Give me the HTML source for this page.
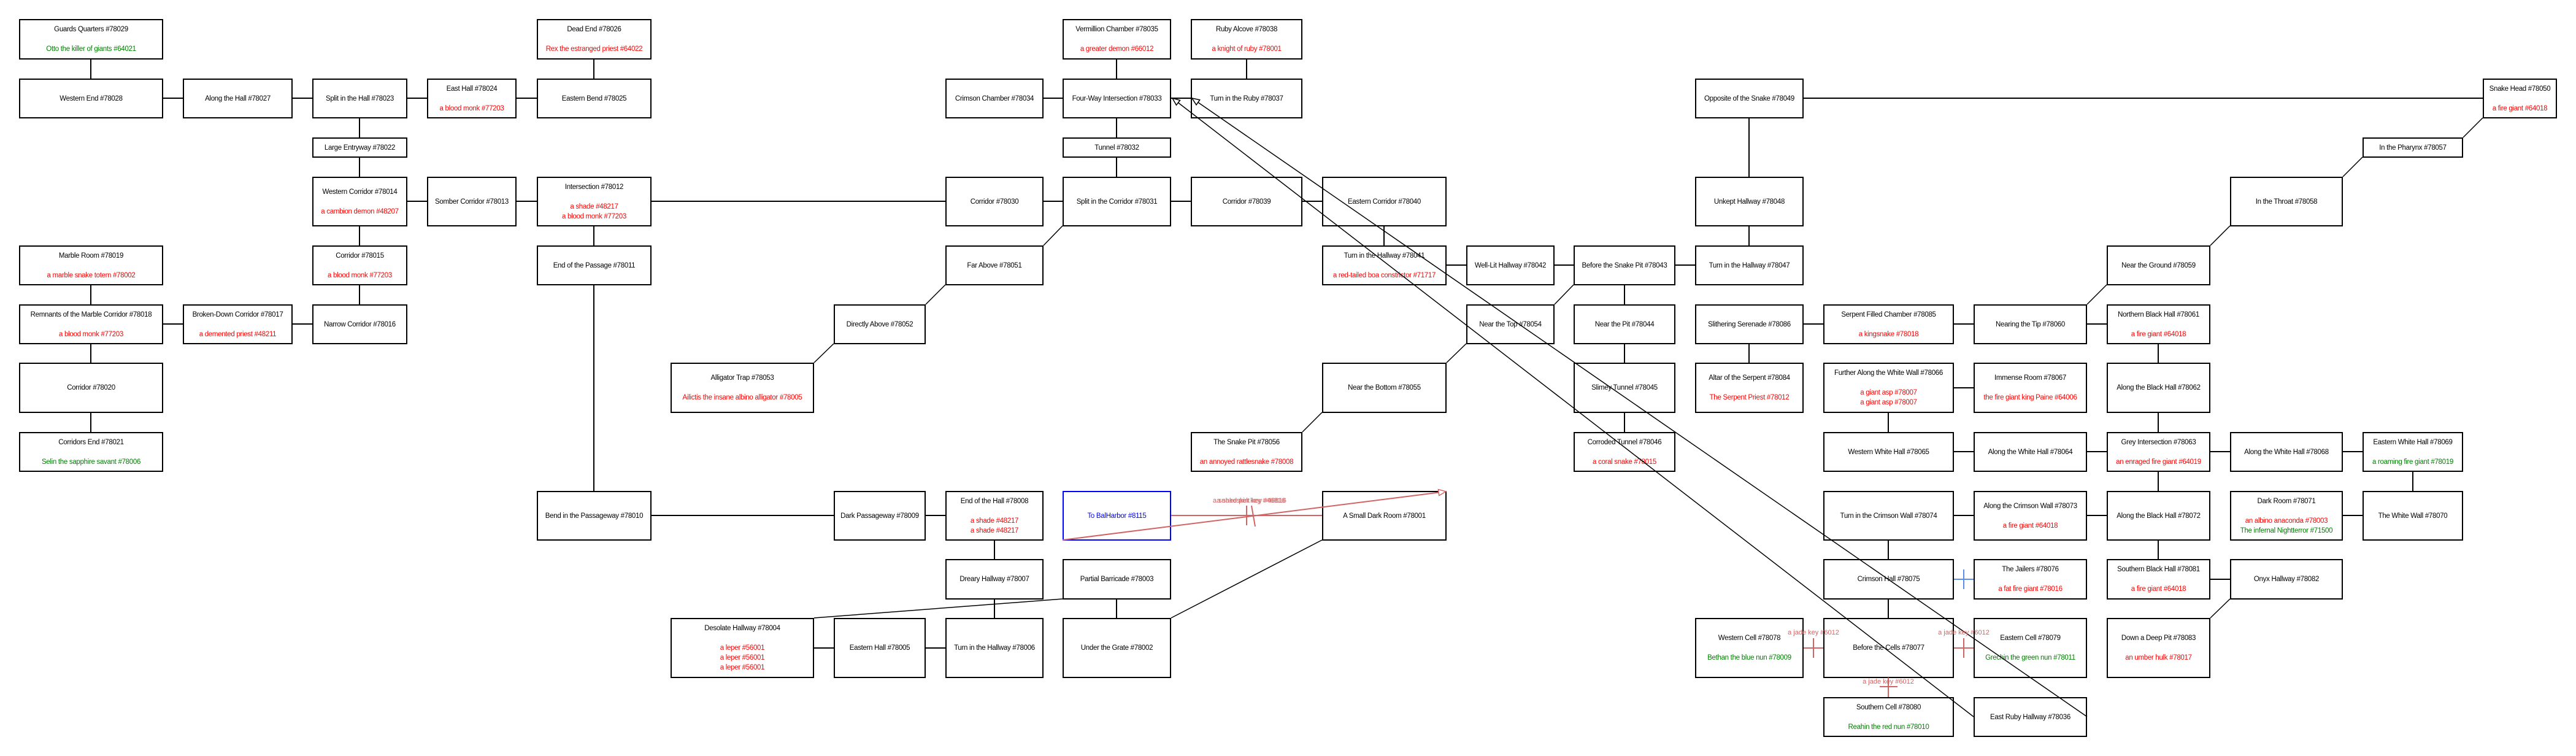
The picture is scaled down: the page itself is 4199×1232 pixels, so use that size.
<!DOCTYPE html>
<html><head><meta charset="utf-8"><style>
body{margin:0;width:4199px;height:1232px;background:#fff;position:relative;overflow:hidden;font-family:"Liberation Sans",sans-serif}
.b{position:absolute;border:2px solid #000;box-sizing:border-box;background:#fff;display:flex;align-items:center;justify-content:center;text-align:center;font-size:11.5px;line-height:16px;color:#000;white-space:nowrap;letter-spacing:-0.3px}
.r{color:#f00}.g{color:#008000}
.A{top:31px;height:66px}.B{top:128px;height:65px}.C{top:224px;height:33px}.D{top:288px;height:81px}
.E{top:400px;height:65px}.F{top:496px;height:65px}.G{top:591px;height:82px}.H{top:704px;height:65px}
.I{top:800px;height:81px}.J{top:911px;height:66px}.K{top:1007px;height:98px}.L{top:1136px;height:65px}
svg{position:absolute;left:0;top:0}
</style></head><body>
<div class="b A" style="left:31px;width:235px"><div>Guards Quarters #78029<br><br><span class="g">Otto the killer of giants #64021</span></div></div>
<div class="b B" style="left:31px;width:235px"><div>Western End #78028</div></div>
<div class="b B" style="left:298px;width:179px"><div>Along the Hall #78027</div></div>
<div class="b B" style="left:509px;width:155px"><div>Split in the Hall #78023</div></div>
<div class="b B" style="left:696px;width:146px"><div>East Hall #78024<br><br><span class="r">a blood monk #77203</span></div></div>
<div class="b A" style="left:875px;width:187px"><div>Dead End #78026<br><br><span class="r">Rex the estranged priest #64022</span></div></div>
<div class="b B" style="left:875px;width:187px"><div>Eastern Bend #78025</div></div>
<div class="b C" style="left:509px;width:155px"><div>Large Entryway #78022</div></div>
<div class="b D" style="left:509px;width:155px"><div>Western Corridor #78014<br><br><span class="r">a cambion demon #48207</span></div></div>
<div class="b D" style="left:696px;width:146px"><div>Somber Corridor #78013</div></div>
<div class="b D" style="left:875px;width:187px"><div>Intersection #78012<br><br><span class="r">a shade #48217<br>a blood monk #77203</span></div></div>
<div class="b E" style="left:31px;width:235px"><div>Marble Room #78019<br><br><span class="r">a marble snake totem #78002</span></div></div>
<div class="b E" style="left:509px;width:155px"><div>Corridor #78015<br><br><span class="r">a blood monk #77203</span></div></div>
<div class="b E" style="left:875px;width:187px"><div>End of the Passage #78011</div></div>
<div class="b F" style="left:31px;width:235px"><div>Remnants of the Marble Corridor #78018<br><br><span class="r">a blood monk #77203</span></div></div>
<div class="b F" style="left:298px;width:179px"><div>Broken-Down Corridor #78017<br><br><span class="r">a demented priest #48211</span></div></div>
<div class="b F" style="left:509px;width:155px"><div>Narrow Corridor #78016</div></div>
<div class="b G" style="left:31px;width:235px"><div>Corridor #78020</div></div>
<div class="b H" style="left:31px;width:235px"><div>Corridors End #78021<br><br><span class="g">Selin the sapphire savant #78006</span></div></div>
<div class="b I" style="left:875px;width:187px"><div>Bend in the Passageway #78010</div></div>
<div class="b A" style="left:1732px;width:177px"><div>Vermillion Chamber #78035<br><br><span class="r">a greater demon #66012</span></div></div>
<div class="b A" style="left:1941px;width:182px"><div>Ruby Alcove #78038<br><br><span class="r">a knight of ruby #78001</span></div></div>
<div class="b B" style="left:1541px;width:160px"><div>Crimson Chamber #78034</div></div>
<div class="b B" style="left:1732px;width:177px"><div>Four-Way Intersection #78033</div></div>
<div class="b B" style="left:1941px;width:182px"><div>Turn in the Ruby #78037</div></div>
<div class="b C" style="left:1732px;width:177px"><div>Tunnel #78032</div></div>
<div class="b D" style="left:1541px;width:160px"><div>Corridor #78030</div></div>
<div class="b D" style="left:1732px;width:177px"><div>Split in the Corridor #78031</div></div>
<div class="b D" style="left:1941px;width:182px"><div>Corridor #78039</div></div>
<div class="b E" style="left:1541px;width:160px"><div>Far Above #78051</div></div>
<div class="b F" style="left:1359px;width:150px"><div>Directly Above #78052</div></div>
<div class="b G" style="left:1093px;width:234px"><div>Alligator Trap #78053<br><br><span class="r">Ailictis the insane albino alligator #78005</span></div></div>
<div class="b I" style="left:1359px;width:150px"><div>Dark Passageway #78009</div></div>
<div class="b I" style="left:1541px;width:160px"><div>End of the Hall #78008<br><br><span class="r">a shade #48217<br>a shade #48217</span></div></div>
<div class="b I" style="left:1732px;width:177px;border-color:#00f;color:#00f"><div>To BalHarbor #8115</div></div>
<div class="b J" style="left:1541px;width:160px"><div>Dreary Hallway #78007</div></div>
<div class="b J" style="left:1732px;width:177px"><div>Partial Barricade #78003</div></div>
<div class="b K" style="left:1093px;width:234px"><div>Desolate Hallway #78004<br><br><span class="r">a leper #56001<br>a leper #56001<br>a leper #56001</span></div></div>
<div class="b K" style="left:1359px;width:150px"><div>Eastern Hall #78005</div></div>
<div class="b K" style="left:1541px;width:160px"><div>Turn in the Hallway #78006</div></div>
<div class="b K" style="left:1732px;width:177px"><div>Under the Grate #78002</div></div>
<div class="b H" style="left:1941px;width:182px"><div>The Snake Pit #78056<br><br><span class="r">an annoyed rattlesnake #78008</span></div></div>
<div class="b D" style="left:2155px;width:203px"><div>Eastern Corridor #78040</div></div>
<div class="b E" style="left:2155px;width:203px"><div>Turn in the Hallway #78041<br><br><span class="r">a red-tailed boa constrictor #71717</span></div></div>
<div class="b E" style="left:2390px;width:144px"><div>Well-Lit Hallway #78042</div></div>
<div class="b E" style="left:2565px;width:166px"><div>Before the Snake Pit #78043</div></div>
<div class="b E" style="left:2763px;width:177px"><div>Turn in the Hallway #78047</div></div>
<div class="b B" style="left:2763px;width:177px"><div>Opposite of the Snake #78049</div></div>
<div class="b D" style="left:2763px;width:177px"><div>Unkept Hallway #78048</div></div>
<div class="b F" style="left:2390px;width:144px"><div>Near the Top #78054</div></div>
<div class="b F" style="left:2565px;width:166px"><div>Near the Pit #78044</div></div>
<div class="b F" style="left:2763px;width:177px"><div>Slithering Serenade #78086</div></div>
<div class="b F" style="left:2972px;width:213px"><div>Serpent Filled Chamber #78085<br><br><span class="r">a kingsnake #78018</span></div></div>
<div class="b G" style="left:2155px;width:203px"><div>Near the Bottom #78055</div></div>
<div class="b G" style="left:2565px;width:166px"><div>Slimey Tunnel #78045</div></div>
<div class="b G" style="left:2763px;width:177px"><div>Altar of the Serpent #78084<br><br><span class="r">The Serpent Priest #78012</span></div></div>
<div class="b G" style="left:2972px;width:213px"><div>Further Along the White Wall #78066<br><br><span class="r">a giant asp #78007<br>a giant asp #78007</span></div></div>
<div class="b H" style="left:2565px;width:166px"><div>Corroded Tunnel #78046<br><br><span class="r">a coral snake #78015</span></div></div>
<div class="b H" style="left:2972px;width:213px"><div>Western White Hall #78065</div></div>
<div class="b I" style="left:2155px;width:203px"><div>A Small Dark Room #78001</div></div>
<div class="b I" style="left:2972px;width:213px"><div>Turn in the Crimson Wall #78074</div></div>
<div class="b J" style="left:2972px;width:213px"><div>Crimson Hall #78075</div></div>
<div class="b K" style="left:2763px;width:177px"><div>Western Cell #78078<br><br><span class="g">Bethan the blue nun #78009</span></div></div>
<div class="b K" style="left:2972px;width:213px"><div>Before the Cells #78077</div></div>
<div class="b L" style="left:2972px;width:213px"><div>Southern Cell #78080<br><br><span class="g">Reahin the red nun #78010</span></div></div>
<div class="b B" style="left:4047px;width:121px"><div>Snake Head #78050<br><br><span class="r">a fire giant #64018</span></div></div>
<div class="b C" style="left:3851px;width:164px"><div>In the Pharynx #78057</div></div>
<div class="b D" style="left:3635px;width:184px"><div>In the Throat #78058</div></div>
<div class="b E" style="left:3434px;width:169px"><div>Near the Ground #78059</div></div>
<div class="b F" style="left:3217px;width:185px"><div>Nearing the Tip #78060</div></div>
<div class="b F" style="left:3434px;width:169px"><div>Northern Black Hall #78061<br><br><span class="r">a fire giant #64018</span></div></div>
<div class="b G" style="left:3217px;width:185px"><div>Immense Room #78067<br><br><span class="r">the fire giant king Paine #64006</span></div></div>
<div class="b G" style="left:3434px;width:169px"><div>Along the Black Hall #78062</div></div>
<div class="b H" style="left:3217px;width:185px"><div>Along the White Hall #78064</div></div>
<div class="b H" style="left:3434px;width:169px"><div>Grey Intersection #78063<br><br><span class="r">an enraged fire giant #64019</span></div></div>
<div class="b H" style="left:3635px;width:184px"><div>Along the White Hall #78068</div></div>
<div class="b H" style="left:3851px;width:164px"><div>Eastern White Hall #78069<br><br><span class="g">a roaming fire giant #78019</span></div></div>
<div class="b I" style="left:3217px;width:185px"><div>Along the Crimson Wall #78073<br><br><span class="r">a fire giant #64018</span></div></div>
<div class="b I" style="left:3434px;width:169px"><div>Along the Black Hall #78072</div></div>
<div class="b I" style="left:3635px;width:184px"><div>Dark Room #78071<br><br><span class="r">an albino anaconda #78003</span><br><span class="g">The infernal Nightterror #71500</span></div></div>
<div class="b I" style="left:3851px;width:164px"><div>The White Wall #78070</div></div>
<div class="b J" style="left:3217px;width:185px"><div>The Jailers #78076<br><br><span class="r">a fat fire giant #78016</span></div></div>
<div class="b J" style="left:3434px;width:169px"><div>Southern Black Hall #78081<br><br><span class="r">a fire giant #64018</span></div></div>
<div class="b J" style="left:3635px;width:184px"><div>Onyx Hallway #78082</div></div>
<div class="b K" style="left:3217px;width:185px"><div>Eastern Cell #78079<br><br><span class="g">Grechin the green nun #78011</span></div></div>
<div class="b K" style="left:3434px;width:169px"><div>Down a Deep Pit #78083<br><br><span class="r">an umber hulk #78017</span></div></div>
<div class="b L" style="left:3217px;width:185px"><div>East Ruby Hallway #78036</div></div>

<svg width="4199" height="1232" viewBox="0 0 4199 1232">
<defs>
<marker id="ab" markerWidth="14" markerHeight="12" refX="13" refY="6" orient="auto" markerUnits="userSpaceOnUse"><path d="M1,1 L13,6 L1,11 Z" fill="#fff" stroke="#000" stroke-width="1.5"/></marker>
<marker id="ar" markerWidth="14" markerHeight="12" refX="13" refY="6" orient="auto" markerUnits="userSpaceOnUse"><path d="M1,1 L13,6 L1,11 Z" fill="#fff" stroke="#d06464" stroke-width="1.5"/></marker>
</defs>
<g stroke="#000" stroke-width="2" fill="none">
<path d="M148 96V128M148 464V496M148 560V591M148 672V704
M586 192V224M586 256V288M586 368V400M586 464V496
M968 96V128M968 368V400M968 464V800
M1820 96V128M1820 192V224M1820 256V288M1820 976V1007
M2032 96V128M1621 880V911M1621 976V1007M2256 368V400
M2648 464V496M2648 560V591M2648 672V704
M2851 192V288M2851 368V400M2851 560V591
M3078 672V704M3078 880V911M3078 976V1007
M3518 560V591M3518 672V704M3518 768V800M3518 880V911M3933 768V800
M266 160H298M477 160H509M664 160H696M842 160H875M1701 160H1732M1909 160H1941M2940 160H4047
M664 328H696M842 328H875M1062 328H1541M1701 328H1732M1909 328H1941M2123 328H2155
M2358 432H2390M2534 432H2565M2731 432H2763
M266 528H298M477 528H509M2940 528H2972M3185 528H3217M3402 528H3434
M3185 632H3217M3185 736H3217M3402 736H3434M3603 736H3635M3819 736H3851
M1062 840H1359M1509 840H1541M3185 840H3217M3402 840H3434M3819 840H3851
M3603 944H3635M1327 1056H1359M1509 1056H1541"/>
</g>
<g stroke="#000" stroke-width="1.5" fill="none">
<path d="M1732 368L1701 400M1541 464L1509 496M1359 560L1327 591
M2565 464L2534 496M2390 560L2358 591M2155 672L2123 704
M4047 192L4015 224M3851 256L3819 288M3635 368L3603 400M3434 464L3402 496
M3635 976L3603 1007M1732 976L1327 1007M1909 1007L2155 880"/>
<line x1="3217" y1="1168" x2="1911" y2="160" marker-end="url(#ab)"/>
<line x1="3402" y1="1168" x2="1943" y2="160" marker-end="url(#ab)"/>
</g>
<g stroke="#d06464" stroke-width="2" fill="none">
<path d="M1909 840H2155M2032 824V856M2040 824L2046 858M2940 1056H2972M2956 1040V1072M3185 1056H3217M3201 1040V1072M3078 1104V1136M3064 1119H3093"/>
<line x1="1732" y1="880" x2="2357" y2="801" marker-end="url(#ar)"/>
</g>
<g stroke="#5b8def" stroke-width="2"><path d="M3185 944H3217M3201 928V960"/></g>
<g fill="#d06464" font-family="Liberation Sans, sans-serif" font-size="11" text-anchor="middle">
<text x="2036" y="819">a snakeskin key #46816</text>
<text x="2040" y="819">a shed pelt key #46816</text>
<text x="2956" y="1034">a jade key #6012</text>
<text x="3201" y="1034">a jade key #6012</text>
<text x="3078" y="1114">a jade key #6012</text>
</g>
</svg>
</body></html>
